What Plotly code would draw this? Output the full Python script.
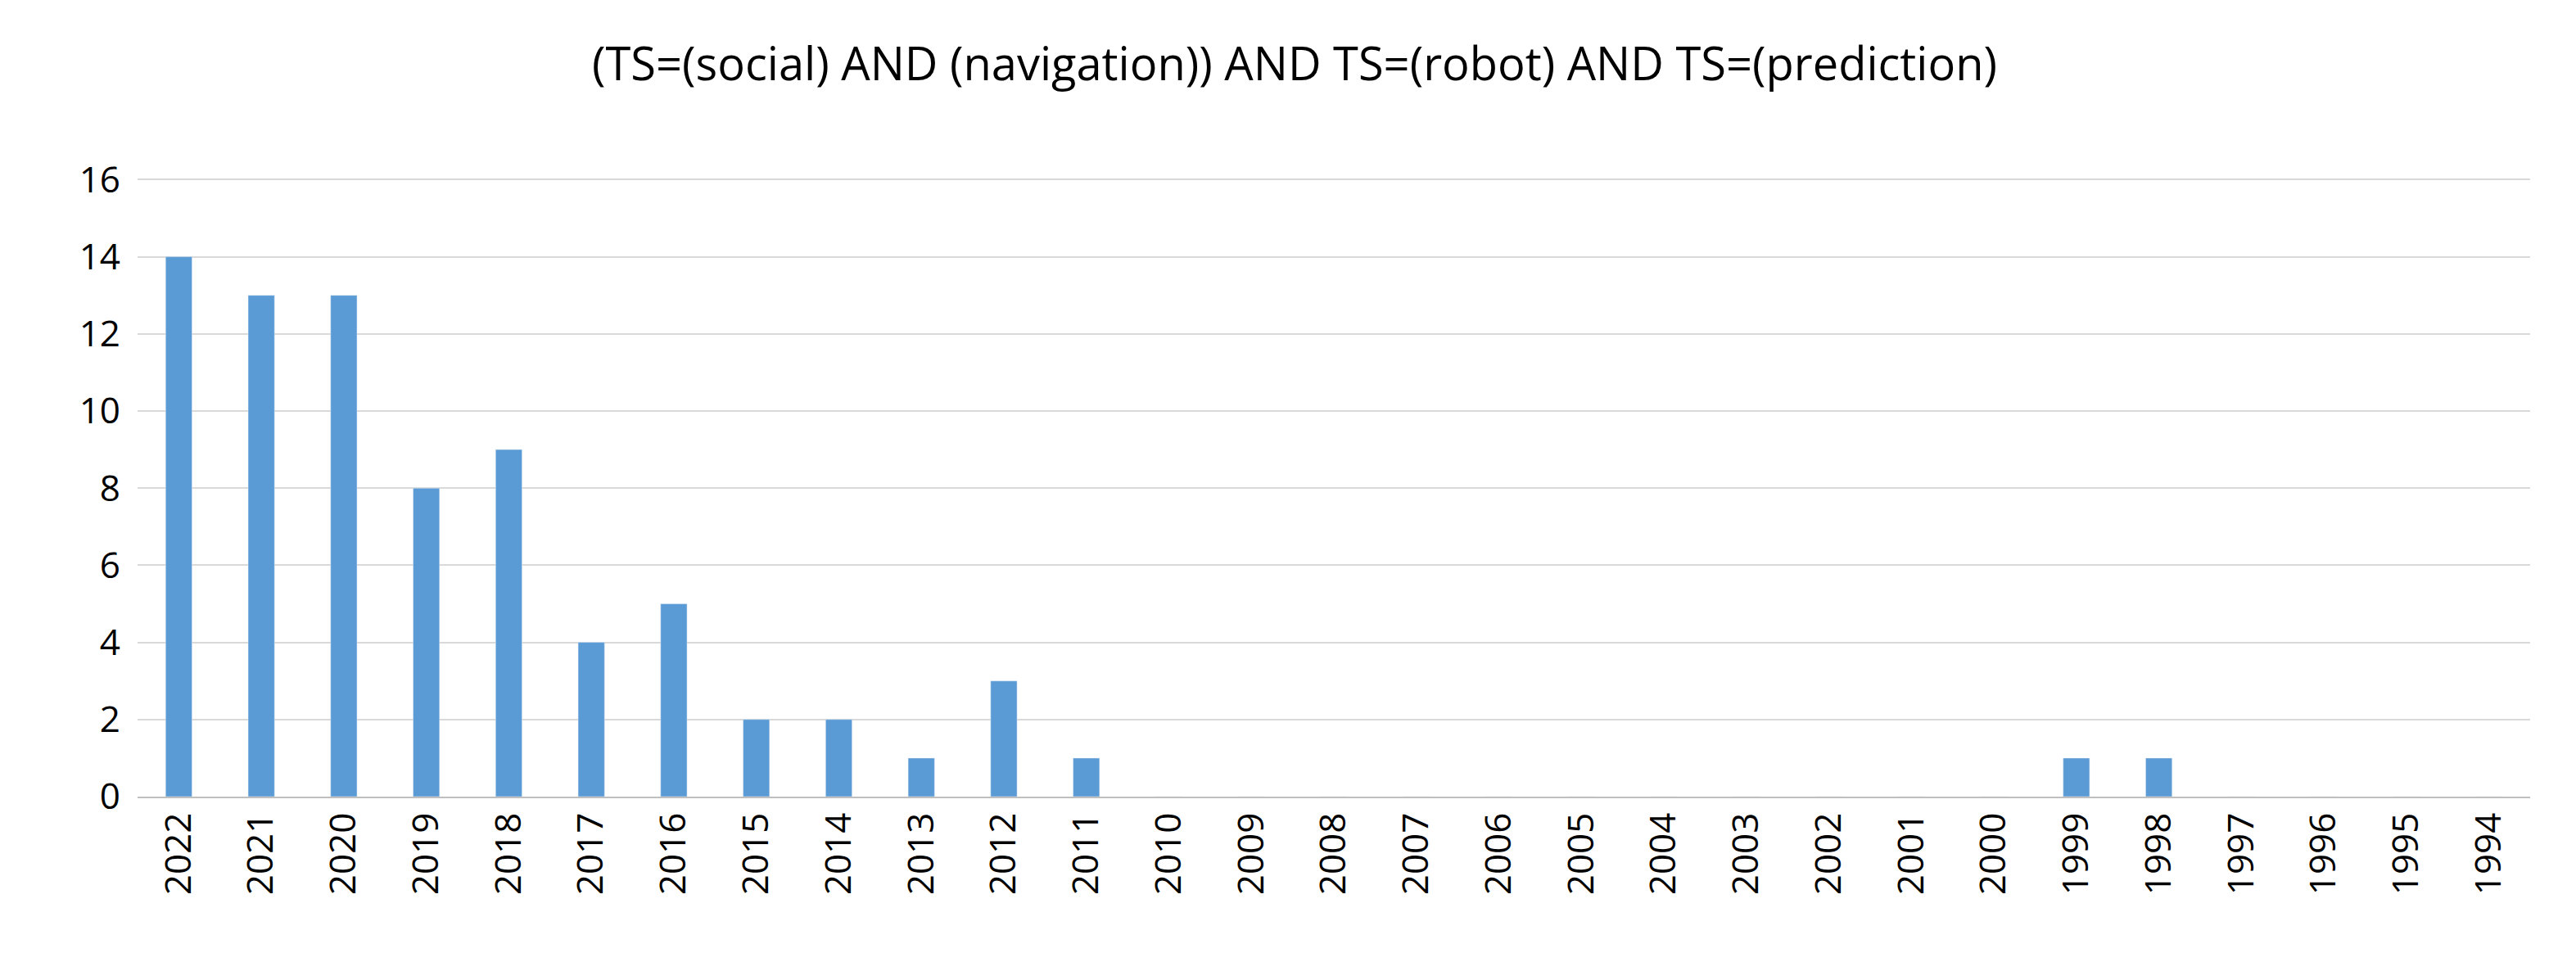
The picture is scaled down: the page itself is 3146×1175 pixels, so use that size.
import plotly.graph_objects as go

years = [str(y) for y in range(2022, 1993, -1)]
counts = [14, 13, 13, 8, 9, 4, 5, 2, 2, 1, 3, 1, 0, 0, 0, 0, 0, 0, 0, 0, 0, 0, 0, 1, 1, 0, 0, 0, 0]
y_ticks = [0, 2, 4, 6, 8, 10, 12, 14, 16]
title = "(TS=(social) AND (navigation)) AND TS=(robot) AND TS=(prediction)"

fig = go.Figure(go.Bar(x=years, y=counts, marker_color="#5B9BD5", width=0.32))
fig.update_layout(
    width=3146, height=1175,
    paper_bgcolor="white", plot_bgcolor="white",
    font=dict(family="Open Sans, Liberation Sans, sans-serif", size=44, color="#000000"),
    title=dict(text=title, x=0.5, xanchor="center", y=0.94, yanchor="middle",
               font=dict(size=56, color="#000000")),
    margin=dict(l=160, r=64, t=210, b=210),
    showlegend=False,
)
fig.update_yaxes(range=[0, 16.03], tickvals=y_ticks, showgrid=True, gridcolor="#D9D9D9",
                 gridwidth=2, zeroline=False, ticks="", ticklabelstandoff=20)
fig.update_xaxes(type="category", tickangle=-90, showline=True, linecolor="#BFBFBF",
                 linewidth=2, ticks="", showgrid=False)
fig.write_html("out.html")
